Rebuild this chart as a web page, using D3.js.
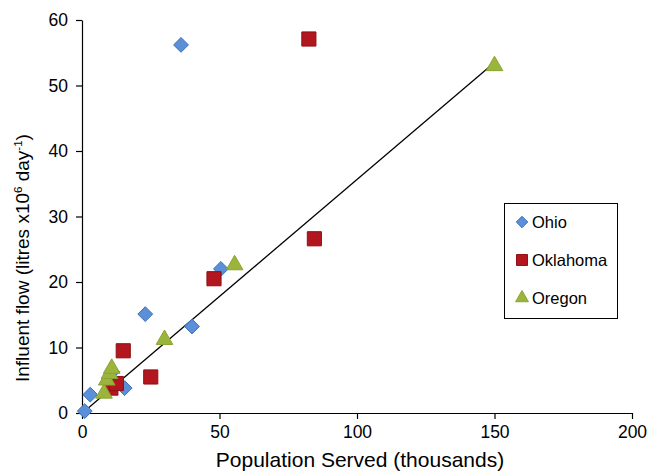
<!DOCTYPE html>
<html>
<head>
<meta charset="utf-8">
<script src="https://cdn.jsdelivr.net/npm/d3@7"></script>
<style>
  body { margin: 0; background: #fff; }
  svg { display: block; font-family: "Liberation Sans", Arial, sans-serif; }
</style>
</head>
<body>
<svg id="chart"></svg>
<script>
// values (x = thousands, y = litres x10^6 / day)
const ohio = [[1, 0.3], [3, 2.8], [11, 6.3], [15.5, 3.8], [23, 15.1], [40, 13.2], [50.5, 22], [36, 56.2]];
const oklahoma = [[82.5, 57.1], [84.5, 26.6], [48, 20.5], [15, 9.5], [25, 5.5], [10.5, 3.8], [12.5, 4.5]];
const oregon = [[150, 53], [55.5, 22.6], [30, 11.2], [8, 3], [9, 5], [10, 6], [10.8, 6.8]];
const trendLine = [[1, 0.3], [150, 53.5]];
const xTicks = [0, 50, 100, 150, 200];
const yTicks = [0, 10, 20, 30, 40, 50, 60];
const seriesNames = ['Ohio', 'Oklahoma', 'Oregon'];

const width = 651, height = 474;
const marginLeft = 82, marginRight = 19, marginTop = 20, marginBottom = 61;

const svg = d3.select('#chart')
  .attr('width', width)
  .attr('height', height)
  .attr('viewBox', [0, 0, width, height]);

const x = d3.scaleLinear().domain([0, 200]).range([marginLeft, width - marginRight]);
const y = d3.scaleLinear().domain([0, 60]).range([height - marginBottom, marginTop]);

// axes
const gx = svg.append('g')
  .attr('transform', `translate(0,${height - marginBottom})`)
  .call(d3.axisBottom(x).tickValues(xTicks).tickSize(6).tickPadding(7).tickSizeOuter(0));
const gy = svg.append('g')
  .attr('transform', `translate(${marginLeft},0)`)
  .call(d3.axisLeft(y).tickValues(yTicks).tickSize(6).tickPadding(8).tickSizeOuter(0));
[gx, gy].forEach(g => {
  g.select('.domain').attr('stroke', '#000').attr('stroke-width', 1.2);
  g.selectAll('.tick line').attr('stroke', '#000').attr('stroke-width', 1.2);
  g.selectAll('.tick text').attr('fill', '#000')
    .style('font-size', '17.5px').style('font-family', '"Liberation Sans", Arial, sans-serif');
});

// axis titles
svg.append('text')
  .attr('x', 360)
  .attr('y', 467)
  .attr('text-anchor', 'middle')
  .style('font-size', '21px')
  .text('Population Served (thousands)');

// y title: anchored at its start, tspans with dy break 'middle' anchoring
const yt = svg.append('text')
  .attr('transform', `translate(29,382) rotate(-90)`)
  .attr('text-anchor', 'start')
  .style('font-size', '19px');
yt.append('tspan').text('Influent flow (litres x10');
yt.append('tspan').attr('dy', -7).style('font-size', '11.5px').text('6');
yt.append('tspan').attr('dy', 7).text(' day');
yt.append('tspan').attr('dy', -7).style('font-size', '11.5px').text('-1');
yt.append('tspan').attr('dy', 7).text(')');

// trend line
svg.append('line')
  .attr('x1', x(trendLine[0][0])).attr('y1', y(trendLine[0][1]))
  .attr('x2', x(trendLine[1][0])).attr('y2', y(trendLine[1][1]))
  .attr('stroke', '#000')
  .attr('stroke-width', 1.3);

const styles = {
  Ohio: { fill: '#5b8fd8', stroke: '#3b6fb8', sym: d3.symbolDiamond2, size: 140 },
  Oklahoma: { fill: '#b2161e', stroke: '#8f1016', sym: d3.symbolSquare, size: 200 },
  Oregon: { fill: '#9bb43c', stroke: '#8aa332', sym: d3.symbolTriangle, size: 120 }
};
const allSeries = [ohio, oklahoma, oregon];

allSeries.forEach((data, i) => {
  const st = styles[seriesNames[i]];
  svg.append('g')
    .selectAll('path')
    .data(data)
    .join('path')
    .attr('transform', d => `translate(${x(d[0])},${y(d[1])})`)
    .attr('d', d3.symbol().type(st.sym).size(st.size)())
    .attr('fill', st.fill)
    .attr('stroke', st.stroke)
    .attr('stroke-width', 1);
});

// legend
const legend = svg.append('g');
legend.append('rect')
  .attr('x', 504.5).attr('y', 203.5)
  .attr('width', 113).attr('height', 115)
  .attr('fill', '#fff')
  .attr('stroke', '#000')
  .attr('stroke-width', 1);
seriesNames.forEach((name, i) => {
  const st = styles[name];
  const ly = 222 + i * 38;
  legend.append('path')
    .attr('transform', `translate(522,${ly})`)
    .attr('d', d3.symbol().type(st.sym).size(st.size * 0.6)())
    .attr('fill', st.fill)
    .attr('stroke', st.stroke);
  legend.append('text')
    .attr('x', 532).attr('y', ly)
    .attr('dominant-baseline', 'central')
    .style('font-size', '16.5px')
    .text(name);
});
</script>
</body>
</html>
